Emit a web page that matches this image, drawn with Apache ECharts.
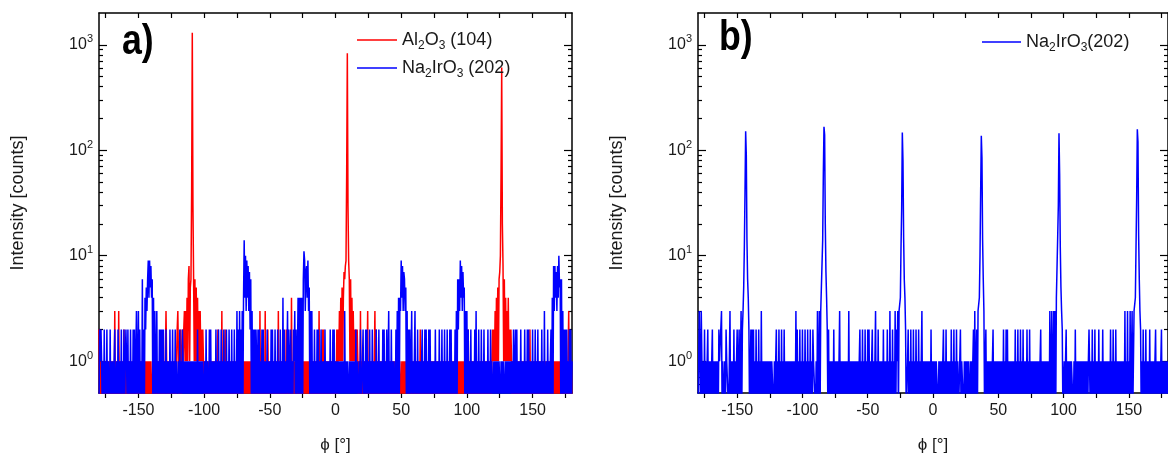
<!DOCTYPE html>
<html>
<head>
<meta charset="utf-8">
<script src="https://cdn.jsdelivr.net/npm/echarts@6/dist/echarts.min.js"></script>
<style>
  html, body { margin: 0; padding: 0; background: #fff; }
  #chart { width: 1168px; height: 459px; }
</style>
</head>
<body>
<div id="chart"></div>
<script>
// phi scan: one character = one point every 0.5°, each row string covers 20°
const PHI_MIN = -180;
const PHI_STEP = 0.5;
const ROW_SPAN = 20;

// a) Al2O3 (104), counts 0-9
const alRows = [
  '2010101010' + '1010101010' + '1010301010' + '3010101020',
  '0101101010' + '0101010101' + '0101010101' + '0101010101',
  '1010101101' + '0101010101' + '0133010101' + '1010101012',
  '3101201212' + '3131416815' + '6999616151' + '4131312121',
  '0101010101' + '1010101010' + '1201010301' + '0120101010',
  '0101010110' + '1010101010' + '1010101010' + '1010101010',
  '0101030101' + '0103010201' + '0101010101' + '0103010101',
  '0101020201' + '0104010101' + '0101010101' + '0101010101',
  '0101010101' + '0101030101' + '2020101010' + '1010101010',
  '1020213141' + '5147689999' + '9616141312' + '1212101030',
  '1010101013' + '0101010101' + '3020101010' + '1010101010',
  '1010101010' + '1010101010' + '0101010101' + '0101010101',
  '0101010102' + '0101010101' + '0101010101' + '0101010101',
  '1010101010' + '1010101010' + '1010101010' + '1010101010',
  '1020101010' + '1010101010' + '1010101010' + '1010101012',
  '1213141516' + '7999981614' + '1314121210' + '1010101010',
  '1010101010' + '1010102010' + '1010101010' + '1010101010',
  '1010101010' + '1010101010' + '1010101010' + '1010130101' + '0'
];
// counts above 9: [phi, counts]
const alPeaks = [
  [-109.5, 40], [-109, 1300], [-108.5, 30],
  [8.5, 60], [9, 830], [9.5, 30],
  [125.5, 10], [126, 60], [126.5, 610], [127, 20]
];

// a) Na2IrO3 (202)
const naRowsA = [
  '0212101020' + '1020110201' + '0101200102' + '2010201020',
  '1210201020' + '1020201301' + '3020106020' + '4253694958',
  '4604030130' + '1020202020' + '1020101020' + '1020102010',
  '0102010210' + '1010101010' + '1010101010' + '2010101010',
  '0102011020' + '2010101020' + '1020102010' + '2010201020',
  '1020102010' + '3020302030' + '4949394837' + '2603020202',
  '1020201020' + '2010102010' + '1020201020' + '1020102010',
  '4020101302' + '1020102130' + '2014040404' + '0699378493',
  '5030301020' + '1020201020' + '1010201010' + '1020102020',
  '1010101010' + '1010301010' + '0101010101' + '0201101020',
  '0120102020' + '1020102010' + '1020102010' + '1020201020',
  '1301020101' + '1020304043' + '9483763503' + '0202013010',
  '1301020101' + '0120102020' + '1020201010' + '1020101020',
  '1020102010' + '2010202010' + '1020306263' + '9483745030',
  '3020102010' + '1020301020' + '1020102010' + '1020102010',
  '0101010101' + '1010101101' + '0101010101' + '0201202010',
  '1020101020' + '1020201010' + '2010201020' + '1010201030',
  '0102010120' + '4083847384' + '9560603020' + '2020102020' + '1'
];
const naPeaksA = [[-69.5, 14], [-68.5, 10], [-24, 11], [170, 10]];

// b) Na2IrO3(202)
const naRowsB = [
  '0131031010' + '2010120101' + '0120101010' + '1021113010',
  '0102111013' + '0101020101' + '2012013023' + '5999996420',
  '0202020102' + '0102010301' + '0101010101' + '0101110101',
  '2010201020' + '1020101010' + '1010101010' + '3020102010',
  '2010201020' + '1020102111' + '0103013035' + '5999997420',
  '2010101020' + '1010101301' + '0101010101' + '0301010101',
  '0101010120' + '1020102010' + '2020101201' + '0130102010',
  '1010201010' + '2010301020' + '1030213033' + '4999996420',
  '0120102010' + '2010201020' + '1013010101' + '0101010201',
  '0101011101' + '0101012010' + '2010101020' + '1020102010',
  '0120111010' + '1010110101' + '0120301203' + '3499999630',
  '1201010101' + '0120101010' + '1010101020' + '1020201010',
  '1010102010' + '2010201020' + '1010201020' + '1010101010',
  '1010120101' + '0101010103' + '0130130304' + '4999995320',
  '0101201010' + '1011101020' + '1010101010' + '1010101012',
  '2010201020' + '1010201010' + '2010101010' + '1020102010',
  '2010101010' + '1010301030' + '1030130033' + '4999996320',
  '1020102010' + '1020101010' + '1201010101' + '2010101010' + '1'
];
const naPeaksB = [
  [-144.5, 12], [-144, 40], [-143.5, 151], [-143, 90], [-142.5, 14],
  [-84.5, 14], [-84, 60], [-83.5, 167], [-83, 140], [-82.5, 20],
  [-24.5, 12], [-24, 28], [-23.5, 147], [-23, 80], [-22.5, 15],
  [36, 10], [36.5, 40], [37, 137], [37.5, 85], [38, 14],
  [95.5, 15], [96, 30], [96.5, 145], [97, 60], [97.5, 12],
  [155.5, 12], [156, 35], [156.5, 158], [157, 120], [157.5, 16]
];

const xTicks = [-175, -150, -125, -100, -75, -50, -25, 0, 25, 50, 75, 100, 125, 150, 175];
const xLabels = [-150, -100, -50, 0, 50, 100, 150];
const yDecades = [1, 10, 100, 1000];
const yMinor = [0.6, 0.7, 0.8, 0.9, 2, 3, 4, 5, 6, 7, 8, 9, 20, 30, 40, 50, 60, 70, 80, 90,
  200, 300, 400, 500, 600, 700, 800, 900];

const Y_MIN = 0.5;
const Y_MAX = 2000;
const ZERO_DRAW = 0.3; // zero counts sit below the log floor, like the original

const FONT = '"Liberation Sans", Arial, sans-serif';
const INK = '#000';
const TEXT = '#1a1a1a';
const RED = '#ff0000';
const BLUE = '#0000ff';

function buildPoints(rows, peaks) {
  const pts = [];
  rows.forEach((row, r) => {
    for (let j = 0; j < row.length; j++) {
      pts.push([PHI_MIN + r * ROW_SPAN + j * PHI_STEP, Number(row[j])]);
    }
  });
  peaks.forEach(([phi, c]) => {
    const p = pts.find(q => q[0] === phi);
    if (p) p[1] = c;
  });
  return pts.map(([x, c]) => [x, c > 0 ? c : ZERO_DRAW]);
}

function xAxes(gridIndex) {
  const line = { show: true, onZero: false, lineStyle: { color: INK, width: 1.5 } };
  return [
    {
      type: 'value', gridIndex, position: 'bottom', min: -180, max: 180,
      axisLine: line,
      axisTick: { show: true, inside: false, length: 5, customValues: xTicks, lineStyle: { color: INK, width: 1.2 } },
      axisLabel: { show: true, customValues: xLabels, margin: 10, fontSize: 16, color: TEXT, fontFamily: FONT },
      splitLine: { show: false },
      name: 'ϕ [°]', nameLocation: 'middle', nameGap: 44,
      nameTextStyle: { fontSize: 17, color: TEXT, fontFamily: FONT }
    },
    {
      type: 'value', gridIndex, position: 'top', min: -180, max: 180,
      axisLine: line,
      axisTick: { show: true, inside: true, length: 5, customValues: xTicks, lineStyle: { color: INK, width: 1.2 } },
      axisLabel: { show: false },
      splitLine: { show: false }
    }
  ];
}

function yAxes(gridIndex) {
  const base = { type: 'log', logBase: 10, min: Y_MIN, max: Y_MAX, gridIndex, splitLine: { show: false } };
  const line = { show: true, onZero: false, lineStyle: { color: INK, width: 1.5 } };
  const noLine = { show: false, onZero: false };
  const tick = (len, vals) => ({ show: true, inside: true, length: len, customValues: vals, lineStyle: { color: INK, width: 1.2 } });
  return [
    {
      ...base, position: 'left', axisLine: line, axisTick: tick(8, yDecades),
      axisLabel: {
        show: true, customValues: yDecades, margin: 6,
        formatter: v => '10{sup|' + Math.round(Math.log10(v)) + '}',
        fontSize: 16, color: TEXT, fontFamily: FONT, lineHeight: 22,
        rich: { sup: { fontSize: 11, color: TEXT, fontFamily: FONT, verticalAlign: 'top', lineHeight: 12 } }
      },
      name: 'Intensity [counts]', nameLocation: 'middle', nameGap: 72,
      nameTextStyle: { fontSize: 18, color: TEXT, fontFamily: FONT }
    },
    { ...base, position: 'left', axisLine: noLine, axisTick: tick(4, yMinor), axisLabel: { show: false } },
    { ...base, position: 'right', axisLine: line, axisTick: tick(8, yDecades), axisLabel: { show: false } },
    { ...base, position: 'right', axisLine: noLine, axisTick: tick(4, yMinor), axisLabel: { show: false } }
  ];
}

const subName = name => name.replace(/([A-Za-z])(\d)/g, '$1{s|$2}');
const legendText = {
  fontSize: 18, color: TEXT, fontFamily: FONT, lineHeight: 24,
  rich: { s: { fontSize: 12, color: TEXT, fontFamily: FONT, verticalAlign: 'bottom', lineHeight: 13 } }
};

const chart = echarts.init(document.getElementById('chart'));

chart.setOption({
  animation: false,
  backgroundColor: '#fff',
  grid: [
    { left: 99, top: 13, width: 473, height: 383 },
    { left: 698, top: 13, width: 474, height: 383 }
  ],
  xAxis: [...xAxes(0), ...xAxes(1)],
  yAxis: [...yAxes(0), ...yAxes(1)],
  legend: [
    {
      data: ['Al2O3 (104)', 'Na2IrO3 (202)'], orient: 'vertical', left: 357, top: 28,
      icon: 'rect', itemWidth: 40, itemHeight: 1.6, itemGap: 4, padding: 0,
      formatter: subName, textStyle: legendText
    },
    {
      data: ['Na2IrO3(202)'], orient: 'vertical', left: 982, top: 30,
      icon: 'rect', itemWidth: 39, itemHeight: 1.6, padding: 0,
      formatter: subName, textStyle: legendText
    }
  ],
  graphic: [
    { type: 'text', left: 122, top: 21, scaleX: 0.85, style: { text: 'a)', font: 'bold 42px ' + FONT, fill: '#000' } },
    { type: 'text', left: 719, top: 17, scaleX: 0.85, style: { text: 'b)', font: 'bold 42px ' + FONT, fill: '#000' } }
  ],
  series: [
    {
      name: 'Al2O3 (104)', type: 'line', xAxisIndex: 0, yAxisIndex: 0,
      data: buildPoints(alRows, alPeaks), showSymbol: false,
      lineStyle: { color: RED, width: 1.5 }, itemStyle: { color: RED }
    },
    {
      name: 'Na2IrO3 (202)', type: 'line', xAxisIndex: 0, yAxisIndex: 0,
      data: buildPoints(naRowsA, naPeaksA), showSymbol: false,
      lineStyle: { color: BLUE, width: 1.5 }, itemStyle: { color: BLUE }
    },
    {
      name: 'Na2IrO3(202)', type: 'line', xAxisIndex: 2, yAxisIndex: 4,
      data: buildPoints(naRowsB, naPeaksB), showSymbol: false,
      lineStyle: { color: BLUE, width: 1.5 }, itemStyle: { color: BLUE }
    }
  ]
});
</script>
</body>
</html>
